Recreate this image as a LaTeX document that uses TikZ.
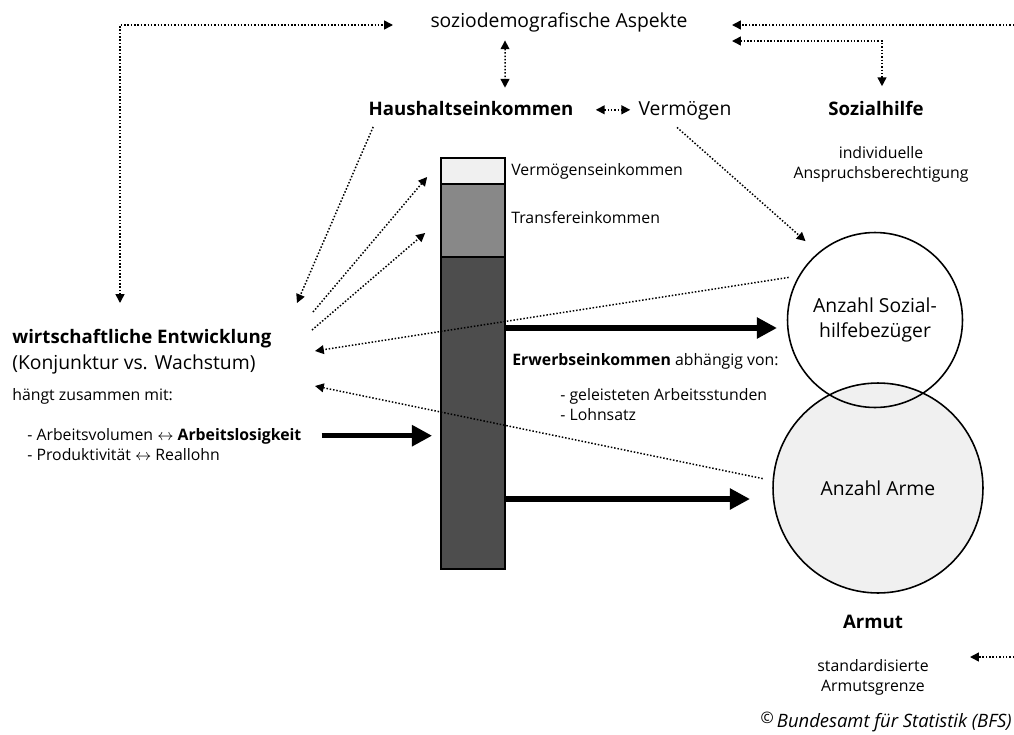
\documentclass[tikz,border=0pt]{standalone}
\usepackage{fontspec}
\setmainfont{Open Sans}
\usetikzlibrary{arrows.meta, positioning, calc}
\definecolor{lightgray}{HTML}{F0F0F0}
\definecolor{midgray}{HTML}{888888}
\definecolor{darkgray}{HTML}{4D4D4D}

\begin{document}
\begin{tikzpicture}[
    x=0.02cm, y=-0.02cm,
    big/.style={font=\fontsize{11}{14}\selectfont, inner sep=0pt, text height=8.5pt, text depth=2.6pt},
    bigb/.style={big, font=\fontsize{10.6}{14}\selectfont\bfseries},
    small/.style={font=\fontsize{9}{11.5}\selectfont, inner sep=0pt, text height=7pt, text depth=2.1pt},
    smallblock/.style={font=\fontsize{9}{11.5}\selectfont, inner sep=0pt, align=center},
    seg/.style={rectangle, draw=black, line width=1pt, minimum width=1.28cm, inner sep=0pt},
    circ/.style={circle, draw=black, line width=0.9pt, inner sep=0pt, align=center, font=\fontsize{11}{14}\selectfont},
    dotline/.style={line width=0.85pt, dash pattern=on 0.85pt off 1.05pt, >={Triangle[length=5pt, width=5pt]}},
    bigarrow/.style={line width=3pt, -{Triangle[length=11.5pt, width=11.5pt]}},
]
    \useasboundingbox (0,0) rectangle (1014,734);

    % top row
    \node[big, anchor=base] (sozio) at (559,27) {soziodemografische Aspekte};
    \node[bigb, anchor=base] (haus) at (471,115) {Haushaltseinkommen};
    \node[big, anchor=base] (verm) at (685,115) {Vermögen};
    \node[bigb, anchor=base] (sozhilfe) at (876,115) {Sozialhilfe};
    \node[smallblock] (anspruch) at (881,164) {individuelle\\Anspruchsberechtigung};

    % left block
    \node[bigb, anchor=base west] (wirt) at (12,343) {wirtschaftliche Entwicklung};
    \node[big, anchor=base west] (konj) at (12,369) {(Konjunktur vs. Wachstum)};
    \node[small, anchor=base west] (haengt) at (12,400) {hängt zusammen mit:};
    \node[small, anchor=base west] (avol) at (27,440) {- Arbeitsvolumen $\leftrightarrow$ \textbf{Arbeitslosigkeit}};
    \node[small, anchor=base west] (prod) at (27,460) {- Produktivität $\leftrightarrow$ Reallohn};

    % income bar
    \node[seg, fill=lightgray, minimum height=0.52cm] (vbar) at (473,171) {};
    \node[seg, fill=midgray, minimum height=1.46cm] (tbar) at (473,220.5) {};
    \node[seg, fill=darkgray, minimum height=6.24cm] (ebar) at (473,413) {};
    \node[small, anchor=base west] (vlabel) at (511,175) {Vermögenseinkommen};
    \node[small, anchor=base west] (tlabel) at (511,223) {Transfereinkommen};
    \node[small, anchor=base west] (erwerb) at (512,365) {\textbf{Erwerbseinkommen} abhängig von:};
    \node[small, anchor=base west] (stunden) at (560,400) {- geleisteten Arbeitsstunden};
    \node[small, anchor=base west] (lohn) at (560,420) {- Lohnsatz};

    % circles
    \node[circ, fill=lightgray, minimum size=4.2cm] (arme) at (878,488) {Anzahl Arme};
    \node[circ, minimum size=3.5cm] (sozial) at (875,320) {Anzahl Sozial-\\hilfebezüger};

    \node[bigb, anchor=base] (armut) at (873,628) {Armut};
    \node[smallblock] (grenze) at (873,677) {standardisierte\\Armutsgrenze};
    \node[anchor=base east, inner sep=0pt, font=\fontsize{10.5}{13}\selectfont\itshape] (bfs) at (1012,727) {\raisebox{0.4ex}{\small ©}\,Bundesamt für Statistik (BFS)};

    % free ends
    \coordinate (redgetop) at (1014,25);
    \coordinate (redgebot) at (1014,657);
    \coordinate (st1) at (393,25);
    \coordinate (st2) at (732,25);
    \coordinate (st3) at (732,41);
    \coordinate (g1) at (970,657);
    \coordinate (wtop) at (120,303);
    \coordinate (w1) at (297,303);
    \coordinate (w2) at (313,312);
    \coordinate (w3) at (312,330);
    \coordinate (w4) at (315,351);
    \coordinate (w5) at (315,386);
    \coordinate (e1) at (777,328);
    \coordinate (e2) at (750,499);

    % dotted connectors
    \draw[dotline, <->] (wtop) |- (st1);
    \draw[dotline, ->] (redgetop) -- (st2);
    \draw[dotline, <->] (st3) -| ([xshift=0.12cm, yshift=0.27cm]sozhilfe.north);
    \draw[dotline, <->] ([xshift=-1.08cm, yshift=-0.17cm]sozio.south) -- ([xshift=0.68cm, yshift=0.24cm]haus.north);
    \draw[dotline, <->, shorten <=0.44cm, shorten >=0.16cm] (haus.east) -- (verm.west);
    \draw[dotline, ->] ([shift={(0.1cm,-0.14cm)}]haus.south west) -- (w1);
    \draw[dotline, ->] (w2) -- ([shift={(-0.26cm,-0.12cm)}]vbar.west);
    \draw[dotline, ->] (w3) -- ([shift={(-0.3cm,-0.25cm)}]tbar.west);
    \draw[dotline, ->] ([shift={(-0.16cm,-0.15cm)}]verm.south) -- (sozial.130) [shorten >=0.34cm];
    \draw[dotline, ->, shorten <=0.2cm] (sozial.150) -- (w4);
    \draw[dotline, ->, shorten <=0.2cm] (arme.176) -- (w5);
    \draw[dotline, ->] (redgebot) -- (g1);

    % solid arrows
    \draw[bigarrow, shorten >=0.16cm] ([xshift=0.4cm]avol.east) -- (avol.east -| ebar.west);
    \draw[bigarrow] (ebar.east |- e1) -- (e1);
    \draw[bigarrow] (ebar.east |- e2) -- (e2);
\end{tikzpicture}
\end{document}
